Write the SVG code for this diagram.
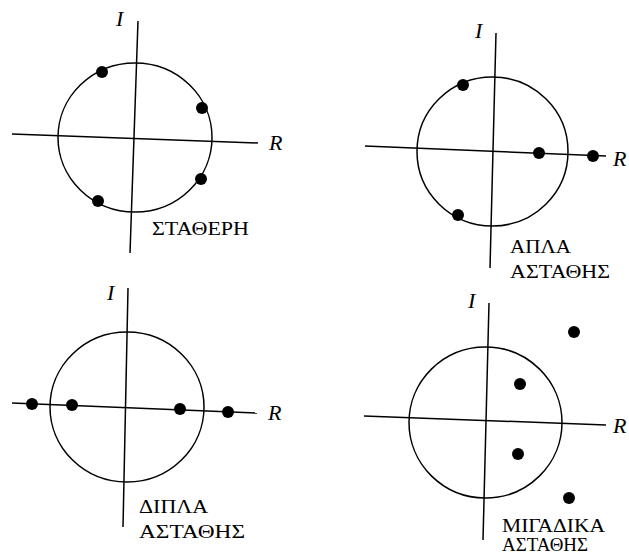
<svg xmlns="http://www.w3.org/2000/svg" width="629" height="558" viewBox="0 0 629 558">
<style>
.ax{stroke:#000;stroke-width:1.5;fill:none}
.ci{stroke:#000;stroke-width:1.5;fill:none}
.pt{fill:#000}
.ax-l{font-family:"Liberation Serif","DejaVu Serif",serif;font-style:italic;font-size:22px;fill:#000}
.lb{font-family:"Liberation Serif","DejaVu Serif",serif;font-size:18px;fill:#000}
</style>
<rect width="629" height="558" fill="#fff"/>
<g id="panel-stable">
  <g id="axes-1">
    <line class="ax" x1="138" y1="21" x2="130" y2="253"/>
    <line class="ax" x1="12" y1="134" x2="258" y2="143"/>
  </g>
  <ellipse class="ci" cx="135" cy="137.5" rx="77" ry="74.5"/>
  <circle class="pt" cx="102" cy="72" r="6"/>
  <circle class="pt" cx="202" cy="108" r="6"/>
  <circle class="pt" cx="201" cy="179" r="6"/>
  <circle class="pt" cx="98" cy="201" r="6"/>
  <text class="ax-l" x="116" y="26">I</text>
  <text class="ax-l" x="269" y="150">R</text>
  <text class="lb" x="152" y="235" textLength="97" lengthAdjust="spacingAndGlyphs">ΣΤΑΘΕΡΗ</text>
</g>
<g id="panel-simple-unstable">
  <g id="axes-2">
    <line class="ax" x1="496" y1="33" x2="490" y2="268"/>
    <line class="ax" x1="365" y1="146" x2="606" y2="156"/>
  </g>
  <ellipse class="ci" cx="492.5" cy="151.5" rx="75.5" ry="74.5"/>
  <circle class="pt" cx="463" cy="85" r="6"/>
  <circle class="pt" cx="539" cy="153" r="6"/>
  <circle class="pt" cx="593" cy="156" r="6"/>
  <circle class="pt" cx="458" cy="215" r="6"/>
  <text class="ax-l" x="475" y="38">I</text>
  <text class="ax-l" x="613" y="166">R</text>
  <text class="lb" x="510" y="253" textLength="61" lengthAdjust="spacingAndGlyphs">ΑΠΛΑ</text>
  <text class="lb" x="510" y="278" textLength="100" lengthAdjust="spacingAndGlyphs">ΑΣΤΑΘΗΣ</text>
</g>
<g id="panel-double-unstable">
  <g id="axes-3">
    <line class="ax" x1="128" y1="288" x2="123" y2="527"/>
    <line class="ax" x1="12" y1="403" x2="257" y2="413"/>
  </g>
  <ellipse class="ci" cx="127" cy="407" rx="77" ry="75"/>
  <circle class="pt" cx="32" cy="404" r="6"/>
  <circle class="pt" cx="72" cy="405" r="6"/>
  <circle class="pt" cx="180" cy="409" r="6"/>
  <circle class="pt" cx="228" cy="412" r="6"/>
  <text class="ax-l" x="107" y="300">I</text>
  <text class="ax-l" x="268" y="420">R</text>
  <text class="lb" x="139" y="513" textLength="69" lengthAdjust="spacingAndGlyphs">ΔΙΠΛΑ</text>
  <text class="lb" x="139" y="538" textLength="106" lengthAdjust="spacingAndGlyphs">ΑΣΤΑΘΗΣ</text>
</g>
<g id="panel-complex-unstable">
  <g id="axes-4">
    <line class="ax" x1="489" y1="303" x2="483" y2="540"/>
    <line class="ax" x1="364" y1="416" x2="606" y2="425"/>
  </g>
  <ellipse class="ci" cx="485.5" cy="422.5" rx="76.5" ry="75.5"/>
  <circle class="pt" cx="574" cy="332" r="6"/>
  <circle class="pt" cx="520" cy="384" r="6"/>
  <circle class="pt" cx="518" cy="454" r="6"/>
  <circle class="pt" cx="569" cy="498" r="6"/>
  <text class="ax-l" x="468" y="308">I</text>
  <text class="ax-l" x="613" y="433">R</text>
  <text class="lb" x="502" y="532" textLength="103" lengthAdjust="spacingAndGlyphs">ΜΙΓΑΔΙΚΑ</text>
  <text class="lb" x="502" y="551" textLength="86" lengthAdjust="spacingAndGlyphs">ΑΣΤΑΘΗΣ</text>
</g>
</svg>
